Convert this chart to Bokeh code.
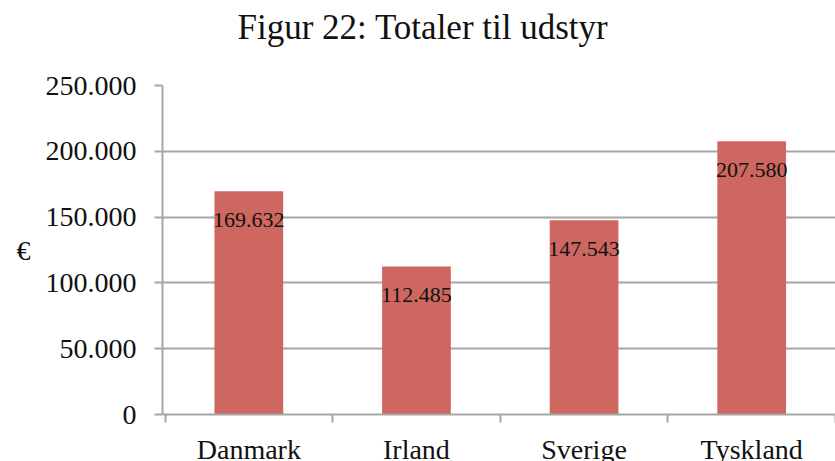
from bokeh.plotting import figure
from bokeh.models import ColumnDataSource, FixedTicker, Range1d, Title
from bokeh.embed import file_html
from bokeh.resources import INLINE
from bokeh.core.properties import value

categories = ["Danmark", "Irland", "Sverige", "Tyskland"]
totals = [169632, 112485, 147543, 207580]
y_ticks = [0, 50000, 100000, 150000, 200000, 250000]
y_tick_labels = ["0", "50.000", "100.000", "150.000", "200.000", "250.000"]
bar_labels = ["169.632", "112.485", "147.543", "207.580"]

FONT = "Liberation Serif"
GRID = "#a6a6a6"
TXT = "#111111"

xs = [i + 0.5 for i in range(len(categories))]
src = ColumnDataSource(dict(x=xs, top=totals, lab=bar_labels))

p = figure(width=835, height=480, output_backend="svg", toolbar_location=None,
           x_range=Range1d(-0.015, 4.0), y_range=Range1d(0, 250000),
           min_border_left=162, min_border_right=0, min_border_top=85,
           min_border_bottom=66, title="Figur 22: Totaler til udstyr")
p.outline_line_color = None
p.background_fill_color = "white"
p.border_fill_color = "white"

p.title.align = "left"
p.title.offset = 75
p.title.standoff = 0
p.title.text_font = FONT
p.title.text_font_style = "normal"
p.title.text_font_size = "35px"
p.title.text_color = TXT

# spacer between the title and the plot area
p.add_layout(Title(text=" ", text_font_size="1px", standoff=36), "above")

p.vbar(x="x", top="top", width=0.41, source=src, color="#cd6760", line_color=None)
p.text(x="x", y="top", text="lab", source=src, text_align="center",
       text_baseline="middle", y_offset=29, text_font=value(FONT),
       text_font_size="22px", text_color=TXT)

# y axis
p.yaxis.ticker = FixedTicker(ticks=y_ticks, minor_ticks=[])
p.yaxis.major_label_overrides = {t: l for t, l in zip(y_ticks, y_tick_labels)}
p.yaxis.major_label_text_font = FONT
p.yaxis.major_label_text_font_size = "28px"
p.yaxis.major_label_text_color = TXT
p.yaxis.major_label_standoff = 18
p.yaxis.major_tick_in = 0
p.yaxis.major_tick_out = 8
p.yaxis.major_tick_line_color = GRID
p.yaxis.major_tick_line_width = 2
p.yaxis.axis_line_color = GRID
p.yaxis.axis_line_width = 2
p.yaxis.axis_label = "€"
p.yaxis.axis_label_orientation = "horizontal"
p.yaxis.axis_label_text_font = FONT
p.yaxis.axis_label_text_font_style = "normal"
p.yaxis.axis_label_text_font_size = "28px"
p.yaxis.axis_label_text_color = TXT
p.yaxis.axis_label_standoff = 12

# x axis: category names at centres, separator ticks between
p.xaxis.ticker = FixedTicker(ticks=xs, minor_ticks=[0, 1, 2, 3, 4])
p.xaxis.major_label_overrides = {x: c for x, c in zip(xs, categories)}
p.xaxis.major_label_text_font = FONT
p.xaxis.major_label_text_font_size = "28px"
p.xaxis.major_label_text_color = TXT
p.xaxis.major_label_standoff = 11
p.xaxis.major_tick_line_color = None
p.xaxis.major_tick_out = 0
p.xaxis.minor_tick_in = 0
p.xaxis.minor_tick_out = 8
p.xaxis.minor_tick_line_color = GRID
p.xaxis.minor_tick_line_width = 2
p.xaxis.axis_line_color = GRID
p.xaxis.axis_line_width = 2

p.xgrid.grid_line_color = None
p.ygrid.grid_line_color = GRID
p.ygrid.grid_line_width = 2

open("out.html", "w").write(file_html(p, INLINE))
